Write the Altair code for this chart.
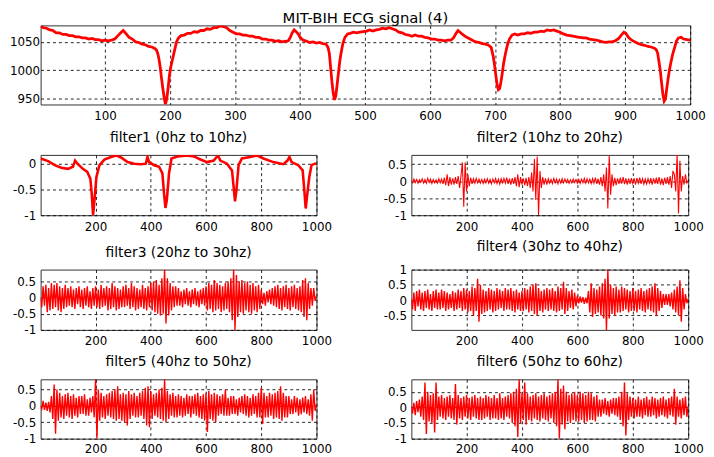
import altair as alt
import pandas as pd

FONT = "DejaVu Sans"
RED = "#ff0000"

main_title = "MIT-BIH ECG signal (4)"
filter_titles = [
    "filter1 (0hz to 10hz)", "filter2 (10hz to 20hz)", "filter3 (20hz to 30hz)",
    "filter4 (30hz to 40hz)", "filter5 (40hz to 50hz)", "filter6 (50hz to 60hz)",
]

# ---- raw ECG (sample index, value) ----
ecg_x = [
    1, 5, 10, 15, 20, 25, 30, 35, 40, 45,
    50, 55, 60, 65, 70, 75, 80, 85, 90, 95,
    100, 105, 110, 115, 120, 125, 128, 132, 137, 142,
    147, 152, 157, 162, 167, 172, 176, 179, 181, 183,
    185, 187, 189, 191, 193, 195, 197, 199, 201, 204,
    207, 210, 213, 217, 222, 227, 232, 237, 242, 247,
    252, 257, 262, 267, 272, 277, 282, 287, 292, 297,
    302, 307, 312, 317, 322, 327, 332, 337, 342, 347,
    352, 357, 362, 367, 372, 377, 382, 385, 388, 391,
    394, 397, 400, 405, 410, 415, 420, 425, 430, 435,
    440, 443, 445, 447, 449, 451, 453, 455, 457, 459,
    461, 463, 466, 469, 473, 477, 482, 487, 492, 497,
    502, 507, 512, 517, 522, 527, 532, 537, 542, 547,
    552, 557, 562, 567, 572, 577, 582, 587, 592, 597,
    602, 607, 612, 617, 622, 627, 632, 636, 640, 643,
    646, 650, 655, 660, 665, 670, 675, 680, 685, 690,
    694, 697, 699, 701, 703, 705, 707, 709, 711, 713,
    716, 719, 722, 726, 730, 735, 740, 745, 750, 755,
    760, 765, 770, 775, 780, 785, 790, 795, 800, 805,
    810, 815, 820, 825, 830, 835, 840, 845, 850, 855,
    860, 865, 870, 875, 880, 885, 890, 894, 898, 901,
    905, 910, 915, 920, 925, 930, 935, 940, 945, 948,
    950, 952, 954, 956, 958, 960, 962, 964, 966, 968,
    970, 973, 976, 979, 982, 986, 990, 995, 1000,
]
ecg_y = [
    1078, 1075, 1074, 1071, 1070, 1066, 1066, 1063, 1063, 1061,
    1061, 1059, 1059, 1057, 1057, 1055, 1056, 1054, 1054, 1052,
    1053, 1052, 1053, 1055, 1061, 1067, 1070, 1065, 1058, 1055,
    1050, 1049, 1046, 1045, 1042, 1041, 1039, 1036, 1030, 1020,
    1005, 985, 968, 952, 940, 950, 968, 990, 1005, 1020,
    1035, 1050, 1057, 1061, 1062, 1065, 1065, 1068, 1067, 1070,
    1070, 1073, 1072, 1075, 1075, 1078, 1077, 1075, 1070, 1067,
    1064, 1064, 1062, 1062, 1060, 1060, 1058, 1058, 1055, 1055,
    1053, 1053, 1051, 1052, 1050, 1051, 1052, 1058, 1066, 1071,
    1068, 1064, 1058, 1053, 1051, 1049, 1050, 1048, 1049, 1047,
    1046, 1040, 1030, 1005, 980, 960, 948, 955, 975, 995,
    1015, 1030, 1048, 1058, 1064, 1065, 1067, 1066, 1067, 1068,
    1069, 1071, 1069, 1071, 1072, 1074, 1073, 1075, 1073, 1071,
    1067, 1066, 1063, 1062, 1060, 1062, 1060, 1060, 1058, 1057,
    1055, 1055, 1053, 1053, 1052, 1053, 1053, 1057, 1065, 1070,
    1067, 1063, 1059, 1056, 1053, 1050, 1049, 1047, 1046, 1044,
    1040, 1025, 1010, 992, 975, 966, 968, 980, 995, 1012,
    1030, 1045, 1055, 1062, 1064, 1062, 1064, 1064, 1066, 1065,
    1067, 1067, 1069, 1068, 1071, 1070, 1071, 1069, 1067, 1064,
    1062, 1061, 1060, 1059, 1058, 1057, 1057, 1055, 1054, 1053,
    1052, 1050, 1049, 1050, 1050, 1052, 1056, 1062, 1067, 1065,
    1058, 1053, 1050, 1047, 1045, 1044, 1042, 1041, 1039, 1036,
    1030, 1015, 1000, 978, 958, 946, 950, 968, 985, 1000,
    1012, 1028, 1040, 1052, 1057, 1058, 1055, 1054, 1053,
]

# ---- filter1 (low band) ----
f1_x = [
    1, 28, 52, 76, 100, 118, 126, 136, 154, 170,
    181, 186, 191, 196, 203, 214, 232, 256, 274, 292,
    316, 340, 364, 382, 388, 394, 412, 430, 442, 448,
    453, 458, 466, 475, 496, 532, 556, 580, 604, 628,
    643, 652, 676, 694, 700, 705, 710, 718, 730, 760,
    784, 808, 844, 880, 895, 902, 910, 934, 950, 956,
    961, 967, 974, 982, 994, 1000,
]
f1_y = [
    0.10, 0.05, -0.03, -0.08, -0.10, -0.06, 0.06, -0.01, -0.10, -0.16,
    -0.29, -0.58, -1.0, -0.71, -0.26, -0.03, 0.08, 0.13, 0.16, 0.12,
    0.03, 0.0, -0.01, 0.0, 0.13, 0.03, -0.03, -0.06, -0.19, -0.58,
    -0.86, -0.71, -0.19, 0.10, 0.14, 0.16, 0.14, 0.08, 0.03, 0.06,
    0.16, 0.06, 0.0, -0.13, -0.45, -0.73, -0.52, -0.03, 0.10, 0.13,
    0.16, 0.10, 0.03, -0.01, 0.06, 0.13, 0.03, -0.03, -0.13, -0.52,
    -0.87, -0.58, -0.26, -0.03, 0.0, 0.0,
]

# ---- band filters, one value every 5 samples (0..1000) ----
f2_y = [
    0.03, -0.05, 0.06, -0.04, 0.05, -0.06, 0.04, -0.03, 0.07, -0.05,
    0.05, -0.06, 0.08, -0.04, 0.06, -0.07, 0.05, -0.05, 0.04, -0.06,
    0.07, -0.05, 0.06, -0.08, 0.1, -0.12, 0.2, -0.15, 0.12, -0.1,
    0.08, -0.1, 0.12, -0.08, 0.15, -0.2, 0.15, 0.55, -0.75, 0.55,
    -0.3, 0.2, -0.15, 0.1, -0.08, 0.07, -0.06, 0.08, -0.05, 0.06,
    -0.06, 0.05, -0.07, 0.06, -0.05, 0.07, -0.06, 0.05, -0.08, 0.06,
    -0.05, 0.08, -0.07, 0.06, -0.09, 0.07, -0.05, 0.08, -0.06, 0.1,
    -0.08, 0.07, -0.1, 0.09, -0.08, 0.12, -0.15, 0.2, -0.18, 0.12,
    -0.1, 0.08, -0.12, 0.1, -0.15, 0.12, -0.2, 0.25, -0.3, 0.65,
    -0.55, 0.72, -1.0, 0.3, -0.2, 0.12, -0.1, 0.08, -0.1, 0.07,
    -0.06, 0.05, -0.07, 0.08, -0.05, 0.06, -0.08, 0.05, -0.06, 0.07,
    -0.05, 0.06, -0.04, 0.05, -0.06, 0.04, -0.05, 0.06, -0.04, 0.05,
    -0.06, 0.05, -0.07, 0.06, -0.05, 0.08, -0.06, 0.07, -0.05, 0.06,
    -0.07, 0.08, -0.06, 0.1, -0.08, 0.07, -0.1, 0.12, -0.15, 0.2,
    -0.3, 0.4, -0.8, 0.75, -0.4, 0.2, -0.15, 0.1, -0.12, 0.08,
    -0.08, 0.1, -0.07, 0.12, -0.09, 0.08, -0.1, 0.07, -0.08, 0.09,
    -0.07, 0.08, -0.1, 0.09, -0.06, 0.1, -0.08, 0.07, -0.09, 0.06,
    -0.08, 0.07, -0.06, 0.09, -0.1, 0.08, -0.07, 0.1, -0.08, 0.12,
    -0.1, 0.08, -0.12, 0.1, -0.08, 0.12, -0.1, 0.15, -0.2, 0.3,
    0.2, -0.3, 0.8, -0.95, 0.6, -0.3, 0.15, -0.1, 0.2, -0.05,
    0.02,
]
f3_y = [
    0.0, -0.3, 0.35, -0.25, 0.4, -0.45, 0.3, -0.4, 0.45, -0.35,
    0.4, -0.3, 0.45, -0.4, 0.35, -0.45, 0.3, -0.35, 0.4, -0.3,
    0.3, -0.25, 0.35, -0.3, 0.25, -0.35, 0.3, -0.2, 0.35, -0.3,
    0.25, -0.35, 0.3, -0.25, 0.35, -0.3, 0.2, -0.35, 0.3, -0.25,
    0.35, -0.3, 0.25, -0.35, 0.4, -0.3, 0.3, -0.25, 0.35, -0.4,
    0.3, -0.35, 0.45, -0.3, 0.35, -0.4, 0.3, -0.35, 0.25, -0.3,
    0.35, -0.3, 0.4, -0.25, 0.3, -0.35, 0.45, -0.3, 0.35, -0.4,
    0.3, -0.35, 0.25, -0.3, 0.4, -0.35, 0.3, -0.4, 0.35, -0.3,
    0.45, -0.4, 0.5, -0.45, 0.55, -0.5, 0.4, -0.55, 0.6, -0.5,
    0.87, -0.8, 0.6, -0.55, 0.45, -0.4, 0.35, -0.3, 0.35, -0.25,
    0.3, -0.25, 0.2, -0.3, 0.25, -0.2, 0.3, -0.25, 0.2, -0.3,
    0.25, -0.2, 0.3, -0.25, 0.2, -0.3, 0.25, -0.2, 0.3, -0.25,
    0.35, -0.4, 0.45, -0.35, 0.4, -0.45, 0.55, -0.4, 0.45, -0.35,
    0.4, -0.45, 0.35, -0.4, 0.45, -0.35, 0.5, -0.45, 0.6, -0.7,
    0.87, -1.0, 0.7, -0.6, 0.5, -0.45, 0.55, -0.5, 0.45, -0.4,
    0.5, -0.45, 0.4, -0.5, 0.45, -0.4, 0.35, -0.45, 0.4, -0.35,
    0.25, -0.2, 0.15, -0.25, 0.2, -0.15, 0.25, -0.2, 0.3, -0.25,
    0.35, -0.3, 0.4, -0.35, 0.3, -0.4, 0.35, -0.3, 0.4, -0.35,
    0.3, -0.4, 0.35, -0.3, 0.4, -0.35, 0.3, -0.4, 0.35, -0.45,
    0.55, -0.6, 0.6, -0.7, 0.45, -0.35, 0.3, -0.25, 0.3, -0.1,
    0.05,
]
f4_y = [
    0.05, -0.3, 0.25, -0.35, 0.3, -0.2, 0.35, -0.3, 0.25, -0.35,
    0.3, -0.25, 0.35, -0.3, 0.2, -0.35, 0.3, -0.25, 0.35, -0.3,
    0.25, -0.3, 0.35, -0.25, 0.3, -0.35, 0.25, -0.3, 0.2, -0.25,
    0.3, -0.35, 0.25, -0.3, 0.35, -0.25, 0.3, -0.35, 0.4, -0.3,
    0.35, -0.4, 0.3, -0.35, 0.45, -0.5, 0.4, -0.35, 0.7, -0.7,
    0.5, -0.45, 0.35, -0.4, 0.3, -0.35, 0.4, -0.3, 0.35, -0.4,
    0.3, -0.35, 0.4, -0.3, 0.35, -0.25, 0.3, -0.35, 0.4, -0.3,
    0.35, -0.3, 0.4, -0.35, 0.3, -0.4, 0.35, -0.3, 0.25, -0.35,
    0.3, -0.35, 0.4, -0.3, 0.35, -0.4, 0.45, -0.35, 0.5, -0.45,
    0.55, -0.5, 0.4, -0.35, 0.3, -0.4, 0.35, -0.3, 0.4, -0.35,
    0.35, -0.3, 0.4, -0.35, 0.3, -0.4, 0.45, -0.35, 0.4, -0.3,
    0.6, -0.45, 0.4, -0.35, 0.3, -0.25, 0.35, -0.3, 0.25, -0.2,
    0.15, -0.1, 0.12, -0.08, 0.1, -0.12, 0.08, -0.1, 0.3, -0.4,
    0.55, -0.55, 0.4, -0.45, 0.35, -0.4, 0.45, -0.5, 0.55, -0.6,
    0.7, -0.97, 1.0, -0.6, 0.5, -0.45, 0.4, -0.5, 0.45, -0.4,
    0.35, -0.4, 0.45, -0.35, 0.4, -0.3, 0.35, -0.4, 0.3, -0.35,
    0.4, -0.35, 0.3, -0.4, 0.35, -0.3, 0.4, -0.35, 0.3, -0.4,
    0.35, -0.3, 0.4, -0.35, 0.45, -0.4, 0.55, -0.5, 0.4, -0.35,
    0.3, -0.25, 0.2, -0.15, 0.2, -0.15, 0.2, -0.2, 0.25, -0.3,
    0.35, -0.4, 0.45, -0.5, 0.65, -0.7, 0.4, -0.3, 0.2, -0.1,
    0.05,
]
f5_y = [
    0.0, -0.1, 0.15, -0.12, 0.1, -0.15, 0.12, -0.2, 0.3, -0.4,
    0.65, -0.85, 0.5, -0.45, 0.4, -0.35, 0.3, -0.4, 0.35, -0.3,
    0.4, -0.35, 0.3, -0.4, 0.35, -0.3, 0.25, -0.35, 0.3, -0.25,
    0.3, -0.25, 0.35, -0.3, 0.2, -0.3, 0.25, -0.2, 0.3, -0.35,
    0.81, -1.0, 0.5, -0.45, 0.4, -0.35, 0.3, -0.4, 0.35, -0.3,
    0.4, -0.35, 0.45, -0.4, 0.5, -0.45, 0.6, -0.4, 0.35, -0.45,
    0.4, -0.5, 0.35, -0.6, 0.45, -0.4, 0.35, -0.3, 0.4, -0.35,
    0.3, -0.35, 0.4, -0.3, 0.45, -0.4, 0.55, -0.6, 0.6, -0.65,
    0.45, -0.4, 0.35, -0.3, 0.4, -0.35, 0.5, -0.4, 0.55, -0.45,
    0.81, -0.5, 0.45, -0.4, 0.35, -0.3, 0.4, -0.35, 0.3, -0.35,
    0.35, -0.3, 0.3, -0.35, 0.25, -0.3, 0.35, -0.25, 0.3, -0.35,
    0.3, -0.25, 0.35, -0.3, 0.4, -0.35, 0.3, -0.4, 0.35, -0.45,
    0.4, -0.8, 0.45, -0.4, 0.35, -0.45, 0.4, -0.5, 0.35, -0.3,
    0.3, -0.25, 0.35, -0.3, 0.5, -0.3, 0.25, -0.3, 0.3, -0.25,
    0.3, -0.25, 0.2, -0.3, 0.25, -0.2, 0.3, -0.25, 0.35, -0.3,
    0.3, -0.35, 0.25, -0.3, 0.35, -0.25, 0.3, -0.35, 0.4, -0.35,
    0.55, -0.55, 0.4, -0.35, 0.3, -0.35, 0.4, -0.3, 0.35, -0.4,
    0.4, -0.35, 0.45, -0.4, 0.6, -0.45, 0.4, -0.35, 0.3, -0.35,
    0.3, -0.25, 0.2, -0.25, 0.3, -0.2, 0.25, -0.3, 0.2, -0.25,
    0.25, -0.2, 0.3, -0.25, 0.2, -0.3, 0.35, -0.45, 0.5, -0.15,
    0.05,
]
f6_y = [
    0.05, -0.2, 0.15, -0.25, 0.2, -0.15, 0.25, -0.3, 0.35, -0.4,
    0.8, -0.85, 0.5, -0.45, 0.4, -0.5, 0.45, -0.8, 0.8, -0.4,
    0.35, -0.3, 0.4, -0.35, 0.3, -0.4, 0.35, -0.3, 0.4, -0.35,
    0.3, -0.4, 0.75, -0.55, 0.4, -0.35, 0.3, -0.4, 0.35, -0.3,
    0.4, -0.35, 0.3, -0.4, 0.35, -0.3, 0.4, -0.35, 0.3, -0.4,
    0.35, -0.4, 0.3, -0.35, 0.4, -0.3, 0.35, -0.4, 0.3, -0.35,
    0.4, -0.35, 0.3, -0.4, 0.45, -0.35, 0.3, -0.4, 0.35, -0.3,
    0.4, -0.35, 0.45, -0.5, 0.5, -0.6, 0.6, -0.95, 0.9, -0.5,
    0.45, -0.4, 0.8, -0.55, 0.45, -0.4, 0.35, -0.45, 0.4, -0.35,
    0.45, -0.4, 0.35, -0.45, 0.4, -0.35, 0.45, -0.4, 0.35, -0.45,
    0.4, -0.35, 0.45, -0.5, 0.5, -0.6, 0.9, -1.0, 0.6, -0.55,
    0.7, -0.7, 0.5, -0.45, 0.4, -0.5, 0.45, -0.4, 0.5, -0.45,
    0.4, -0.45, 0.5, -0.4, 0.45, -0.5, 0.4, -0.45, 0.5, -0.4,
    0.45, -0.4, 0.35, -0.45, 0.4, -0.3, 0.25, -0.3, 0.25, -0.2,
    0.3, -0.25, 0.2, -0.3, 0.25, -0.2, 0.3, -0.25, 0.3, -0.3,
    0.35, -0.4, 0.5, -0.6, 0.8, -0.9, 0.45, -0.4, 0.35, -0.3,
    0.3, -0.35, 0.25, -0.3, 0.35, -0.3, 0.25, -0.35, 0.3, -0.25,
    0.35, -0.3, 0.25, -0.3, 0.35, -0.25, 0.3, -0.35, 0.25, -0.3,
    0.3, -0.25, 0.35, -0.3, 0.25, -0.35, 0.3, -0.25, 0.35, -0.3,
    0.6, -0.55, 0.35, -0.3, 0.25, -0.35, 0.3, -0.25, 0.35, -0.3,
    0.05,
]

band_x = [5 * i for i in range(201)]

assert len(ecg_x) == len(ecg_y)
assert len(f1_x) == len(f1_y)
for s in (f2_y, f3_y, f4_y, f5_y, f6_y):
    assert len(s) == len(band_x), len(s)

top_xticks = [100, 200, 300, 400, 500, 600, 700, 800, 900, 1000]
low_xticks = [200, 400, 600, 800, 1000]

LABEL = "'' + datum.value"


def panel(xs, ys, title, w, h, ydom, yvals, xvals, lw, ylabpad, xext,
          toff=10, tsize=14, xlabpad=6):
    df = pd.DataFrame({"x": xs, "y": ys})
    return alt.Chart(
        df, title=alt.TitleParams(text=title, offset=toff, fontSize=tsize, frame="group")
    ).mark_line(color=RED, strokeWidth=lw, clip=True).encode(
        x=alt.X("x:Q", scale=alt.Scale(domain=[1, 1000], nice=False, zero=False),
                axis=alt.Axis(values=xvals, title=None, labelExpr=LABEL,
                              labelPadding=xlabpad, labelFlush=False, labelOverlap=False,
                              minExtent=xext, maxExtent=xext)),
        y=alt.Y("y:Q", scale=alt.Scale(domain=ydom, nice=False, zero=False),
                axis=alt.Axis(values=yvals, title=None, labelExpr=LABEL,
                              labelPadding=ylabpad, labelOverlap=False,
                              minExtent=31, maxExtent=31)),
    ).properties(width=w, height=h)


NOISE_W = 1.4

top = panel(ecg_x, ecg_y, main_title, 657, 80, [940, 1079], [950, 1000, 1050],
            top_xticks, 2.8, 1, 20, toff=-1, tsize=15)

p1 = panel(f1_x, f1_y, filter_titles[0], 279, 61, [-1, 0.17], [-1, -0.5, 0],
           low_xticks, 2.6, 5, 18)
p2 = panel(band_x, f2_y, filter_titles[1], 280, 61, [-1, 0.77], [-1, -0.5, 0, 0.5],
           low_xticks, 1.1, 5, 18)
p3 = panel(band_x, f3_y, filter_titles[2], 279, 61, [-1, 0.87], [-1, -0.5, 0, 0.5],
           low_xticks, NOISE_W, 5, 19)
p4 = panel(band_x, f4_y, filter_titles[3], 280, 61, [-0.97, 1.0], [-0.5, 0, 0.5, 1],
           low_xticks, NOISE_W, 5, 19)
p5 = panel(band_x, f5_y, filter_titles[4], 279, 60, [-1, 0.81], [-1, -0.5, 0, 0.5],
           low_xticks, NOISE_W, 5, 17, xlabpad=5)
p6 = panel(band_x, f6_y, filter_titles[5], 280, 60, [-1, 0.9], [-1, -0.5, 0, 0.5],
           low_xticks, NOISE_W, 5, 17, xlabpad=5)

rows = [alt.hconcat(a, b, spacing=48) for a, b in ((p1, p2), (p3, p4), (p5, p6))]

chart = alt.vconcat(top, *rows, spacing=5).properties(
    padding={"left": 0, "top": 0, "right": 0, "bottom": 0},
    background="white",
).configure_axis(
    grid=True, gridColor="#000000", gridDash=[3, 3], gridOpacity=0.85, gridWidth=1,
    ticks=False, domain=False, labelFont=FONT, labelFontSize=12, labelColor="#000000",
).configure_view(
    stroke="#333333", strokeWidth=1,
).configure_title(
    font=FONT, fontWeight="normal", color="#000000", anchor="middle",
)

chart.save("out.html", embed_options={"renderer": "svg", "actions": False})
